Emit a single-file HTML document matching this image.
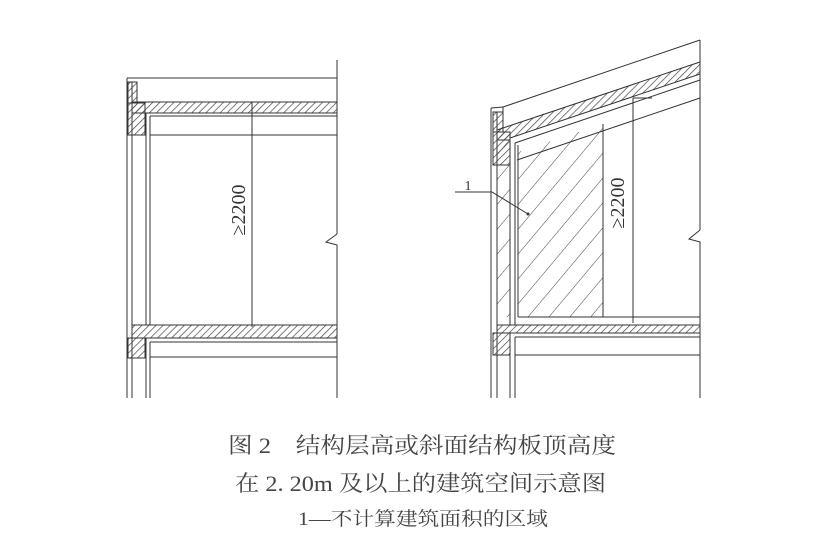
<!DOCTYPE html>
<html><head><meta charset="utf-8"><style>
html,body{margin:0;padding:0;background:#fff;}
svg{display:block;}
</style></head><body>
<svg width="815" height="546" viewBox="0 0 815 546" xmlns="http://www.w3.org/2000/svg">
<defs>
<pattern id="h" width="5" height="5" patternUnits="userSpaceOnUse" patternTransform="rotate(45)">
<line x1="0" y1="0" x2="0" y2="5" stroke="#444" stroke-width="1.4"/>
</pattern>
<pattern id="h2" width="16" height="16" patternUnits="userSpaceOnUse" patternTransform="rotate(40)">
<line x1="0" y1="0" x2="0" y2="16" stroke="#444" stroke-width="1"/>
</pattern>
</defs>
<g stroke="#333" stroke-width="1" fill="none">
<!-- LEFT FIGURE -->
<line x1="127" y1="78" x2="127" y2="398"/>
<line x1="132" y1="82" x2="132" y2="398"/>
<line x1="127" y1="78" x2="337" y2="78"/>
<rect x="128" y="82" width="9" height="21" fill="url(#h)"/>
<rect x="132" y="102" width="205" height="11" fill="url(#h)"/>
<rect x="128" y="103" width="17" height="32" fill="url(#h)"/>
<line x1="137" y1="82" x2="137" y2="102"/>
<line x1="132" y1="102" x2="337" y2="102"/>
<line x1="145" y1="113" x2="337" y2="113"/>
<line x1="150" y1="116" x2="337" y2="116"/>
<line x1="150" y1="135" x2="337" y2="135"/>
<line x1="146" y1="113" x2="146" y2="325"/>
<line x1="150" y1="116" x2="150" y2="325"/>
<line x1="146" y1="338" x2="146" y2="398"/>
<line x1="150" y1="342" x2="150" y2="398"/>
<line x1="337" y1="60" x2="337" y2="234"/>
<polyline points="337,234 326,242 337,245 337,398"/>
<line x1="252" y1="102" x2="252" y2="327"/>
<rect x="132" y="325" width="205" height="13" fill="url(#h)"/>
<rect x="128" y="338" width="17" height="20" fill="url(#h)"/>
<line x1="150" y1="342" x2="337" y2="342"/>
<line x1="150" y1="357" x2="337" y2="357"/>

<!-- RIGHT FIGURE -->
<polygon points="497,140 510,140 510,317 497,317" fill="url(#h2)" stroke="none"/>
<polygon points="518,152 603,124 603,317 518,317" fill="url(#h2)" stroke="none"/>
<line x1="603" y1="124" x2="603" y2="317"/>
<line x1="491" y1="108" x2="491" y2="398"/>
<line x1="497" y1="112" x2="497" y2="398"/>
<line x1="491" y1="108" x2="503" y2="107"/>
<line x1="503" y1="107" x2="700" y2="40"/>
<rect x="493" y="112" width="10" height="20" fill="url(#h)"/>
<line x1="503" y1="107" x2="503" y2="130"/>
<polygon points="497,130 700,62 700,74 510,138 510,140 497,140" fill="url(#h)"/>
<rect x="493" y="132" width="17" height="33" fill="url(#h)"/>
<line x1="510" y1="140" x2="510" y2="325"/>
<line x1="515" y1="143" x2="515" y2="325"/>
<line x1="518" y1="145" x2="518" y2="317"/>
<line x1="515" y1="143" x2="700" y2="80"/>
<line x1="517" y1="160" x2="700" y2="98"/>
<line x1="518" y1="317" x2="700" y2="317"/>
<line x1="700" y1="40" x2="700" y2="230"/>
<polyline points="700,230 689,239 700,242 700,398"/>
<line x1="633" y1="98" x2="633" y2="323"/>
<line x1="633" y1="98" x2="652" y2="98"/>
<rect x="497" y="325" width="203" height="8" fill="url(#h)"/>
<rect x="493" y="333" width="17" height="22" fill="url(#h)"/>
<line x1="510" y1="333" x2="510" y2="398"/>
<line x1="515" y1="337" x2="515" y2="398"/>
<line x1="515" y1="337" x2="700" y2="337"/>
<line x1="515" y1="355" x2="700" y2="355"/>
<polyline points="455,192 492,192 528,214"/>
</g>
<circle cx="528" cy="214" r="1.5" fill="#333"/>
<g fill="#333" font-family="'Liberation Serif','Noto Serif CJK SC',serif">
<text x="468" y="190" font-size="14" text-anchor="middle">1</text>
<text transform="translate(239,210) rotate(-90)" font-size="20" text-anchor="middle" dominant-baseline="central">≥2200</text>
<text transform="translate(618,203) rotate(-90)" font-size="20" text-anchor="middle" dominant-baseline="central">≥2200</text>
</g>
<g fill="#444" font-family="'Liberation Serif','Noto Serif CJK SC',serif">
<text x="228" y="453" font-size="22" textLength="388" lengthAdjust="spacingAndGlyphs">图 2　结构层高或斜面结构板顶高度</text>
<text x="235" y="491" font-size="22" textLength="371" lengthAdjust="spacingAndGlyphs">在 2. 20m 及以上的建筑空间示意图</text>
<text x="298" y="525" font-size="19" textLength="250" lengthAdjust="spacingAndGlyphs">1—不计算建筑面积的区域</text>
</g>
</svg>
</body></html>
